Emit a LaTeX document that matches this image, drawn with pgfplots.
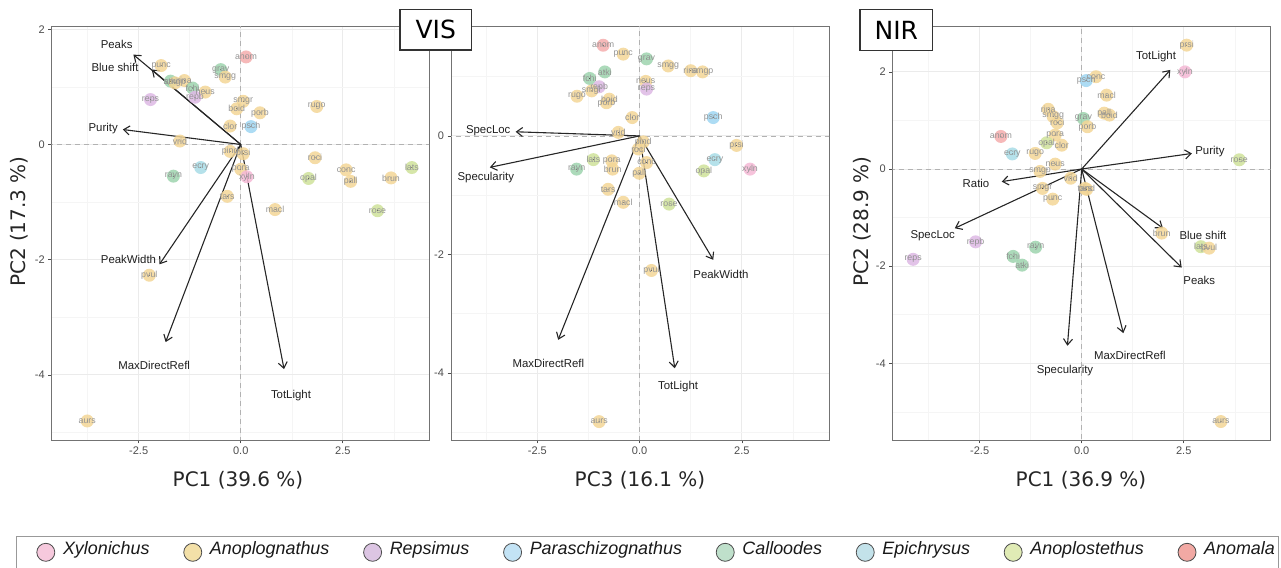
\documentclass[border=0pt]{standalone}
\usepackage{fontspec}
\setmainfont{Liberation Sans}
\newfontfamily\djv{DejaVu Sans}
\usepackage{pgfplots}
\pgfplotsset{compat=1.18}
\usepackage{pgfplotstable}
\usetikzlibrary{arrows.meta}

\definecolor{cXyl}{HTML}{F5B8D5}
\definecolor{cAnop}{HTML}{F3D697}
\definecolor{cReps}{HTML}{DDB8E4}
\definecolor{cPara}{HTML}{9FD6F2}
\definecolor{cCall}{HTML}{9ED4AE}
\definecolor{cEpic}{HTML}{A8DCE6}
\definecolor{cAnos}{HTML}{CFE29A}
\definecolor{cAnom}{HTML}{F5ADAD}
\definecolor{lXyl}{HTML}{F6C9DD}
\definecolor{lAnop}{HTML}{F3E0A8}
\definecolor{lReps}{HTML}{DCC5E3}
\definecolor{lPara}{HTML}{C3E3F5}
\definecolor{lCall}{HTML}{BFE0CB}
\definecolor{lEpic}{HTML}{C3E2EA}
\definecolor{lAnos}{HTML}{E0EBB5}
\definecolor{lAnom}{HTML}{F2A9A4}

% VIS: PC1 vs PC2
\pgfplotstableread{
x y g lab
0.13 1.52 anom anom
-1.95 1.37 anop punc
-0.49 1.30 call grav
-0.38 1.17 anop smgg
-1.72 1.10 call atki
-1.38 1.11 anop rina
-1.61 1.07 anop smgp
-1.18 0.98 call fchi
-0.87 0.91 anop neus
-1.12 0.82 reps repb
-2.21 0.78 reps reps
0.06 0.75 anop smgr
-0.10 0.62 anop boid
0.47 0.55 anop porb
1.86 0.66 anop rugo
-0.26 0.32 anop clor
0.25 0.31 para psch
-1.49 0.06 anop vrid
-0.26 -0.12 anop pind
0.06 -0.16 anop prsi
1.82 -0.23 anop roci
-0.98 -0.40 epic ecry
-1.65 -0.55 call rayn
0.00 -0.43 anop pora
0.15 -0.56 xyl xyln
1.66 -0.59 anos opal
2.58 -0.44 anop conc
2.69 -0.64 anop pall
3.68 -0.58 anop brun
4.19 -0.40 anos lats
-0.33 -0.90 anop tars
0.84 -1.13 anop macl
3.35 -1.15 anos rose
-2.24 -2.27 anop pvul
-3.76 -4.80 anop aurs
}\tA

% VIS: PC3 vs PC2
\pgfplotstableread{
x y g lab
-0.89 1.53 anom anom
-0.40 1.38 anop punc
0.17 1.30 call grav
0.70 1.18 anop smgg
1.25 1.10 anop rina
1.54 1.08 anop smgp
-0.85 1.08 call atki
-1.22 0.97 call fchi
-0.99 0.83 reps repb
-1.17 0.76 anop smgr
-1.53 0.67 anop rugo
-0.74 0.62 anop boid
-0.81 0.56 anop porb
0.15 0.92 anop neus
0.17 0.79 reps reps
-0.18 0.31 anop clor
1.80 0.31 para psch
-0.52 0.06 anop vrid
0.09 -0.10 anop pind
-0.03 -0.22 anop roci
2.37 -0.16 anop prsi
-1.13 -0.40 anos lats
-0.68 -0.42 anop pora
-0.66 -0.56 anop brun
-1.54 -0.56 call rayn
0.17 -0.45 anop conc
-0.01 -0.63 anop pall
1.84 -0.40 epic ecry
1.57 -0.59 anos opal
2.70 -0.56 xyl xyln
-0.77 -0.90 anop tars
-0.40 -1.12 anop macl
0.72 -1.15 anos rose
0.29 -2.27 anop pvul
-0.99 -4.82 anop aurs
}\tB

% NIR: PC1 vs PC2
\pgfplotstableread{
x y g lab
2.57 2.55 anop prsi
2.53 2.00 xyl xyln
0.35 1.90 anop conc
0.11 1.82 para psch
0.61 1.52 anop macl
-0.82 1.23 anop rina
-0.70 1.08 anop smgg
-0.60 0.95 anop roci
0.04 1.04 call grav
0.55 1.15 anop pall
0.68 1.11 anop boid
0.14 0.87 anop porb
-0.65 0.70 anop pora
-0.86 0.54 anos opal
-0.49 0.49 anop clor
-1.98 0.67 anom anom
-1.70 0.31 epic ecry
-1.14 0.32 anop rugo
-0.65 0.10 anop neus
-1.02 -0.05 anop smgp
-0.27 -0.19 anop vrid
-0.96 -0.40 anop smgr
-0.71 -0.62 anop punc
0.08 -0.40 anop tars
0.12 -0.42 anop pind
1.96 -1.32 anop brun
2.92 -1.60 anos lats
3.12 -1.63 anop pvul
3.86 0.19 anos rose
-2.60 -1.50 reps repb
-4.13 -1.86 reps reps
-1.13 -1.61 call rayn
-1.68 -1.80 call fchi
-1.46 -1.98 call atki
3.41 -5.20 anop aurs
}\tC

\pgfplotsset{
  pca/.style={
    scale only axis, height=413.3pt, anchor=south west,
    axis line style={draw=black!55, line width=0.9pt},
    grid=both,
    major grid style={draw=black!8, line width=0.9pt},
    minor grid style={draw=black!4, line width=0.5pt},
    xtick={-2.5,0,2.5}, xticklabels={-2.5,0.0,2.5},
    minor xtick={-3.75,-1.25,1.25,3.75},
    minor ytick={-5,-3,-1,1},
    xtick pos=bottom, ytick pos=left,
    tick align=outside,
    major tick length=3.5pt, minor tick length=0pt,
    major tick style={draw=black!70, line width=0.7pt},
    tick label style={font=\fontsize{11}{12}\selectfont, text=black!70},
  },
  zl/.style={no marks, draw=black!30, line width=0.8pt, dash pattern=on 5pt off 4pt},
  pts/.style={scatter, only marks, mark=*, mark size=6.5pt,
    mark options={draw opacity=0},
    scatter src=explicit symbolic,
    scatter/classes={
      xyl={color=cXyl, fill opacity=0.85, draw opacity=0},
      anop={color=cAnop, fill opacity=0.85, draw opacity=0},
      reps={color=cReps, fill opacity=0.85, draw opacity=0},
      para={color=cPara, fill opacity=0.85, draw opacity=0},
      call={color=cCall, fill opacity=0.85, draw opacity=0},
      epic={color=cEpic, fill opacity=0.85, draw opacity=0},
      anos={color=cAnos, fill opacity=0.85, draw opacity=0},
      anom={color=cAnom, fill opacity=0.85, draw opacity=0}}},
  labs/.style={only marks, mark=*, mark size=0.1pt, mark options={draw=none, fill=none},
    nodes near coords, point meta=explicit symbolic,
    every node near coord/.style={anchor=center, inner sep=0pt,
      font=\fontsize{8.8}{9}\selectfont, text=black!42}},
  arr/.style={no marks, line width=1.1pt, draw=black!85,
    -{Straight Barb[length=6pt, width=9pt]}},
}
\tikzset{alab/.style={font=\fontsize{11.4}{13}\selectfont, text=black!88, inner sep=0pt}}

\begin{document}
\begin{tikzpicture}[x=1pt,y=1pt]
\path[use as bounding box] (0,0) rectangle (1281,567);

% ---------------- Panel 1 ----------------
\begin{axis}[pca, at={(51.7pt,127pt)}, width=377.3pt,
  xmin=-4.63, xmax=4.61, ymin=-5.13, ymax=2.045,
  ytick={-4,-2,0,2}, yticklabels={-4,-2,0,2}]
\addplot[zl] coordinates {(0,-10) (0,10)};
\addplot[zl] coordinates {(-10,0) (10,0)};
\addplot[pts] table[x=x,y=y,meta=g]{\tA};
\addplot[labs] table[x=x,y=y,meta=lab]{\tA};
\addplot[arr] coordinates {(0,0) (-2.63,1.56)};
\addplot[arr] coordinates {(0,0) (-2.18,1.30)};
\addplot[arr] coordinates {(0,0) (-2.89,0.26)};
\addplot[arr] coordinates {(0,0) (-1.99,-2.08)};
\addplot[arr] coordinates {(0,0) (-1.84,-3.43)};
\addplot[arr] coordinates {(0,0) (1.06,-3.90)};
\node[alab] at (axis cs:-3.04,1.73) {Peaks};
\node[alab] at (axis cs:-3.08,1.34) {Blue shift};
\node[alab] at (axis cs:-3.37,0.27) {Purity};
\node[alab] at (axis cs:-2.75,-1.99) {PeakWidth};
\node[alab] at (axis cs:-2.12,-3.83) {MaxDirectRefl};
\node[alab] at (axis cs:1.23,-4.36) {TotLight};
\end{axis}

% ---------------- Panel 2 ----------------
\begin{axis}[pca, at={(451pt,127pt)}, width=378pt,
  xmin=-4.61, xmax=4.63, ymin=-5.13, ymax=1.843,
  ytick={-4,-2,0}, yticklabels={-4,-2,0}]
\addplot[zl] coordinates {(0,-10) (0,10)};
\addplot[zl] coordinates {(-10,0) (10,0)};
\addplot[pts] table[x=x,y=y,meta=g]{\tB};
\addplot[labs] table[x=x,y=y,meta=lab]{\tB};
\addplot[arr] coordinates {(0,0) (-3.03,0.07)};
\addplot[arr] coordinates {(0,0) (-3.66,-0.53)};
\addplot[arr] coordinates {(0,0) (-1.99,-3.44)};
\addplot[arr] coordinates {(0,0) (0.86,-3.92)};
\addplot[arr] coordinates {(0,0) (1.80,-2.09)};
\node[alab] at (axis cs:-3.70,0.08) {SpecLoc};
\node[alab] at (axis cs:-3.76,-0.70) {Specularity};
\node[alab] at (axis cs:-2.23,-3.84) {MaxDirectRefl};
\node[alab] at (axis cs:0.94,-4.22) {TotLight};
\node[alab] at (axis cs:1.99,-2.34) {PeakWidth};
\end{axis}

% ---------------- Panel 3 ----------------
\begin{axis}[pca, at={(892.7pt,127pt)}, width=378pt,
  xmin=-4.63, xmax=4.63, ymin=-5.58, ymax=2.93,
  ytick={-4,-2,0,2}, yticklabels={-4,-2,0,2}]
\addplot[zl] coordinates {(0,-10) (0,10)};
\addplot[zl] coordinates {(-10,0) (10,0)};
\addplot[pts] table[x=x,y=y,meta=g]{\tC};
\addplot[labs] table[x=x,y=y,meta=lab]{\tC};
\addplot[arr] coordinates {(0,0) (2.17,2.04)};
\addplot[arr] coordinates {(0,0) (2.70,0.32)};
\addplot[arr] coordinates {(0,0) (-1.96,-0.26)};
\addplot[arr] coordinates {(0,0) (-3.11,-1.22)};
\addplot[arr] coordinates {(0,0) (1.99,-1.22)};
\addplot[arr] coordinates {(0,0) (2.45,-2.03)};
\addplot[arr] coordinates {(0,0) (-0.35,-3.64)};
\addplot[arr] coordinates {(0,0) (1.02,-3.38)};
\node[alab] at (axis cs:1.82,2.31) {TotLight};
\node[alab] at (axis cs:3.14,0.36) {Purity};
\node[alab] at (axis cs:-2.59,-0.29) {Ratio};
\node[alab] at (axis cs:-3.65,-1.38) {SpecLoc};
\node[alab] at (axis cs:2.97,-1.37) {Blue shift};
\node[alab] at (axis cs:2.88,-2.30) {Peaks};
\node[alab] at (axis cs:-0.41,-4.14) {Specularity};
\node[alab] at (axis cs:1.18,-3.84) {MaxDirectRefl};
\end{axis}

% axis titles
\tikzset{ttl/.style={font=\djv\fontsize{20}{24}\selectfont, text=black!85, inner sep=0pt}}
\node[ttl] at (238,87) {PC1 (39.6 \%)};
\node[ttl] at (640,87) {PC3 (16.1 \%)};
\node[ttl] at (1081,87) {PC1 (36.9 \%)};
\node[ttl, rotate=90] at (19,345.3) {PC2 (17.3 \%)};
\node[ttl, rotate=90] at (862,345.3) {PC2 (28.9 \%)};

% panel tags
\node[draw=black!80, line width=1.2pt, fill=white, minimum width=71.7pt, minimum height=40.7pt,
  inner sep=0pt, font=\djv\fontsize{25}{30}\selectfont] at (435.8,537.4) {VIS};
\node[draw=black!80, line width=1.2pt, fill=white, minimum width=72.7pt, minimum height=41.4pt,
  inner sep=0pt, font=\djv\fontsize{25}{30}\selectfont] at (896.3,537) {NIR};

% legend
\draw[black!40, line width=1pt] (16.7,30.3) rectangle (1278,-10);
\tikzset{lg/.style={circle, draw=black!70, line width=0.8pt, minimum size=18pt, inner sep=0pt},
  lt/.style={font=\itshape\fontsize{17.9}{20}\selectfont, text=black!90, inner sep=0pt, anchor=mid west}}
\node[lg, fill=lXyl] (c1) at (45.8,14.7) {};
\node[lt] (t1) at ([xshift=17pt]c1.center) {Xylonichus};
\node[lg, fill=lAnop] (c2) at ([xshift=43pt]t1.mid east) {};
\node[lt] (t2) at ([xshift=17pt]c2.center) {Anoplognathus};
\node[lg, fill=lReps] (c3) at ([xshift=43pt]t2.mid east) {};
\node[lt] (t3) at ([xshift=17pt]c3.center) {Repsimus};
\node[lg, fill=lPara] (c4) at ([xshift=43pt]t3.mid east) {};
\node[lt] (t4) at ([xshift=17pt]c4.center) {Paraschizognathus};
\node[lg, fill=lCall] (c5) at ([xshift=43pt]t4.mid east) {};
\node[lt] (t5) at ([xshift=17pt]c5.center) {Calloodes};
\node[lg, fill=lEpic] (c6) at ([xshift=43pt]t5.mid east) {};
\node[lt] (t6) at ([xshift=17pt]c6.center) {Epichrysus};
\node[lg, fill=lAnos] (c7) at ([xshift=43pt]t6.mid east) {};
\node[lt] (t7) at ([xshift=17pt]c7.center) {Anoplostethus};
\node[lg, fill=lAnom] (c8) at ([xshift=43pt]t7.mid east) {};
\node[lt] (t8) at ([xshift=17pt]c8.center) {Anomala};
\end{tikzpicture}
\end{document}
